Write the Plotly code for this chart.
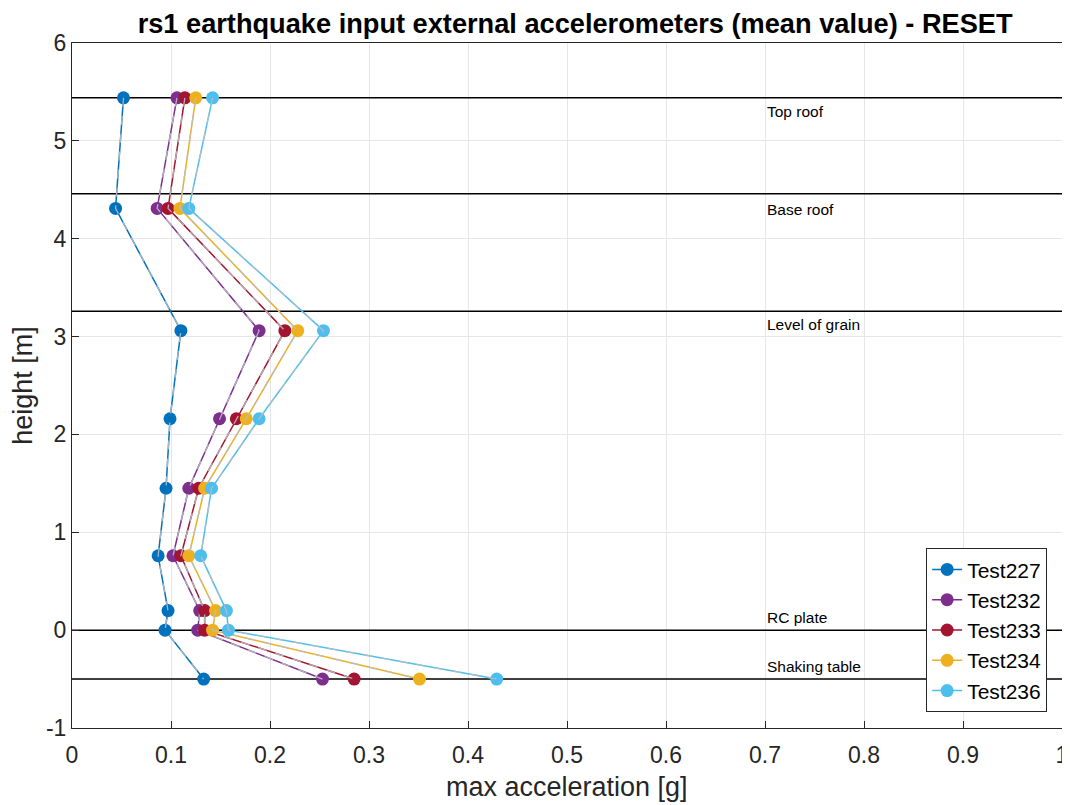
import plotly.graph_objects as go

heights = [5.44, 4.31, 3.06, 2.16, 1.45, 0.76, 0.20, 0.0, -0.50]

test_names = ["Test227", "Test232", "Test233", "Test234", "Test236"]
test227 = [0.052, 0.044, 0.110, 0.099, 0.095, 0.087, 0.097, 0.094, 0.133]
test232 = [0.106, 0.086, 0.189, 0.149, 0.118, 0.102, 0.129, 0.127, 0.253]
test233 = [0.114, 0.097, 0.215, 0.166, 0.128, 0.110, 0.134, 0.134, 0.285]
test234 = [0.125, 0.109, 0.228, 0.176, 0.134, 0.118, 0.145, 0.142, 0.351]
test236 = [0.142, 0.118, 0.254, 0.189, 0.141, 0.130, 0.156, 0.158, 0.429]
series = [test227, test232, test233, test234, test236]
colors = ["#0072BD", "#7E2F8E", "#A2142F", "#EDB120", "#4DBEEE"]

level_names = ["Top roof", "Base roof", "Level of grain", "RC plate", "Shaking table"]
level_heights = [5.44, 4.46, 3.26, 0.0, -0.50]
label_heights = [5.30, 4.30, 3.12, 0.13, -0.37]
label_x = 0.70

x_ticks = [0, 0.1, 0.2, 0.3, 0.4, 0.5, 0.6, 0.7, 0.8, 0.9, 1]
x_tick_text = ["0", "0.1", "0.2", "0.3", "0.4", "0.5", "0.6", "0.7", "0.8", "0.9", "1"]
y_ticks = [-1, 0, 1, 2, 3, 4, 5, 6]
y_tick_text = ["-1", "0", "1", "2", "3", "4", "5", "6"]
x_title = "max acceleration [g]"
y_title = "height [m]"

FONT = "Liberation Sans, Arial, Helvetica, sans-serif"

fig = go.Figure()

for h in level_heights:
    fig.add_trace(go.Scatter(x=[0, 1], y=[h, h], mode="lines",
                             line=dict(color="black", width=1.5),
                             showlegend=False, hoverinfo="skip"))

for name, vals, c in zip(test_names, series, colors):
    fig.add_trace(go.Scatter(x=vals, y=heights, mode="lines+markers", name=name,
                             line=dict(color=c, width=1.5),
                             marker=dict(color=c, size=13)))
    fig.add_trace(go.Scatter(x=vals, y=heights, mode="lines",
                             line=dict(color="rgba(185,190,195,0.9)", width=1.3, dash="dash"),
                             showlegend=False, hoverinfo="skip"))

for name, y in zip(level_names, label_heights):
    fig.add_annotation(x=label_x, y=y, text=name, showarrow=False,
                       xanchor="left", yanchor="middle",
                       font=dict(family=FONT, size=15.5, color="black"))

# x-axis title placed below the tick labels
fig.add_annotation(xref="paper", yref="paper", x=0.5, y=-59 / 685, text=x_title,
                   showarrow=False, xanchor="center", yanchor="middle",
                   font=dict(family=FONT, size=27, color="#262626"))

axis_common = dict(showline=True, linecolor="#262626", linewidth=1, mirror=True,
                   showgrid=True, gridcolor="#e6e6e6", gridwidth=1,
                   ticks="inside", ticklen=7, tickcolor="#262626",
                   zeroline=False, automargin=False, ticklabeloverflow="allow",
                   tickfont=dict(family=FONT, size=23, color="#262626"))

fig.update_layout(
    width=1062, height=797,
    margin=dict(l=64, r=8, t=35, b=77),
    plot_bgcolor="white", paper_bgcolor="white",
    title=dict(text="<b>rs1 earthquake input external accelerometers (mean value) - RESET</b>",
               x=0.534, xanchor="center", y=1 - 15 / 797, yanchor="middle",
               font=dict(family=FONT, size=27.2, color="black")),
    xaxis=dict(range=[0, 1], tickvals=x_ticks, ticktext=x_tick_text,
               ticklabelstandoff=6, **axis_common),
    yaxis=dict(range=[-1, 6], tickvals=y_ticks, ticktext=y_tick_text,
               title=dict(text=y_title, font=dict(family=FONT, size=27, color="#262626"), standoff=10),
               **axis_common),
    legend=dict(x=0.985, y=0.023, xanchor="right", yanchor="bottom",
                bgcolor="white", bordercolor="#262626", borderwidth=1,
                font=dict(family=FONT, size=21, color="black"),
                tracegroupgap=0, itemwidth=30),
    showlegend=True,
)

fig.write_html("out.html")
